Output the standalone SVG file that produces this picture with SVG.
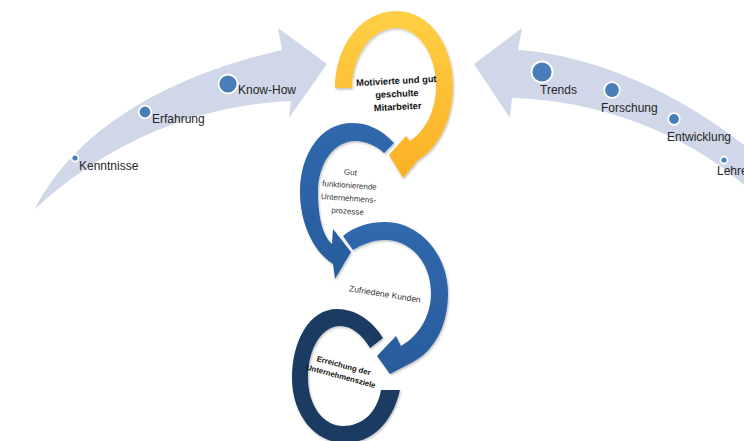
<svg xmlns="http://www.w3.org/2000/svg" width="744" height="441" viewBox="0 0 744 441">
<defs>
<style>
.band{fill:#cfd7e8;}
.dot{fill:#4a7ebb;stroke:#ffffff;stroke-width:1.8;}
.lbl{font-family:"Liberation Sans",Arial,sans-serif;font-size:12px;fill:#262626;}
.rt{font-family:"Liberation Sans",Arial,sans-serif;fill:#3a3a3a;text-anchor:middle;}
.bt{font-family:"Liberation Sans",Arial,sans-serif;font-weight:bold;fill:#111111;text-anchor:middle;}
</style>
<linearGradient id="gy" x1="0" y1="0" x2="0" y2="1">
<stop offset="0" stop-color="#ffcf45"/>
<stop offset="1" stop-color="#fbb025"/>
</linearGradient>
<linearGradient id="gb" x1="0" y1="0" x2="0" y2="1">
<stop offset="0" stop-color="#3068ad"/>
<stop offset="1" stop-color="#2a5c9c"/>
</linearGradient>
<filter id="sh" x="-10%" y="-10%" width="130%" height="130%">
<feDropShadow dx="1" dy="1.5" stdDeviation="1.2" flood-color="#000" flood-opacity="0.25"/>
</filter>
</defs>
<rect width="744" height="441" fill="#ffffff"/>

<g id="connectors">
<path class="band" d="M35,209 C70,140 150,80 282,50 L278,28 L327,64 L289,118 L291,101 C200,105 110,140 35,209 Z"/>
<path class="band" d="M518,50 C600,55 690,100 750,150 L750,190 C690,135 600,100 512,98 L510,118 L474,64 L522,28 Z"/>
</g>

<g id="left-inputs">
<circle class="dot" cx="75" cy="158" r="3.5"/>
<circle class="dot" cx="145" cy="112" r="6.3"/>
<circle class="dot" cx="228" cy="84" r="9.5"/>
<text class="lbl" x="79" y="170">Kenntnisse</text>
<text class="lbl" x="152" y="123">Erfahrung</text>
<text class="lbl" x="238" y="94">Know-How</text>
</g>

<g id="right-inputs">
<circle class="dot" cx="542" cy="72" r="10.5"/>
<circle class="dot" cx="612" cy="90" r="7.8"/>
<circle class="dot" cx="674" cy="119" r="5.8"/>
<circle class="dot" cx="724" cy="160" r="3.5"/>
<text class="lbl" x="540" y="94">Trends</text>
<text class="lbl" x="601" y="112">Forschung</text>
<text class="lbl" x="667" y="141">Entwicklung</text>
<text class="lbl" x="717" y="175">Lehre</text>
</g>

<g id="node-mitarbeiter">
<path fill="url(#gy)" filter="url(#sh)" d="M335,88 C335,45 362,11 396,11 C430,11 453,45 453,86 C453,120 438,148 418,160 L403,178 L389,155 L406,136 L410,141 C426,130 436,110 436,86 C436,55 419,28 396,28 C372,28 352,55 352,88 Z"/>
<g transform="rotate(-3 397 95)">
<text class="bt" font-size="9.3" x="397" y="84">Motivierte und gut</text>
<text class="bt" font-size="9.3" x="397" y="97">geschulte</text>
<text class="bt" font-size="9.3" x="397" y="110">Mitarbeiter</text>
</g>
</g>

<g id="node-prozesse">
<path fill="url(#gb)" filter="url(#sh)" d="M394,143 C380,128 366,123 352,123 C320,123 300,155 300,192 C300,225 315,253 333,264 L335,279 L351,252 L333,229 L332,244 C322,235 318,215 318,192 C318,162 335,141 355,141 C366,141 377,146 384,153 Z"/>
<g transform="rotate(4 349 192)">
<text class="rt" font-size="8" x="349" y="175">Gut</text>
<text class="rt" font-size="8" x="349" y="188">funktionierende</text>
<text class="rt" font-size="8" x="349" y="201">Unternehmens-</text>
<text class="rt" font-size="8" x="349" y="214">prozesse</text>
</g>
</g>

<g id="node-kunden">
<path fill="url(#gb)" filter="url(#sh)" d="M343,236 C355,226 370,222 385,222 C420,222 448,255 448,293 C448,325 435,350 413,362 L390,374 L377,356 L396,336 L401,346 C420,335 431,315 431,293 C431,262 410,240 385,240 C372,240 361,245 353,250 Z"/>
<text class="rt" font-size="8.5" x="385" y="297" transform="rotate(9 385 294)">Zufriedene Kunden</text>
</g>

<g id="node-ziele">
<path fill="#1b3a62" filter="url(#sh)" d="M383,338 C372,320 355,309 337,309 C310,309 292,340 292,378 C292,415 315,443 345,443 C370,443 392,425 400,390 L381,390 C377,413 362,426 343,426 C323,426 308,405 308,378 C308,348 322,326 340,326 C352,326 362,335 370,348 Z"/>
<g transform="rotate(15 342 372)">
<text class="bt" font-size="7.8" x="342" y="368">Erreichung der</text>
<text class="bt" font-size="7.8" x="342" y="379">Unternehmensziele</text>
</g>
</g>
</svg>
